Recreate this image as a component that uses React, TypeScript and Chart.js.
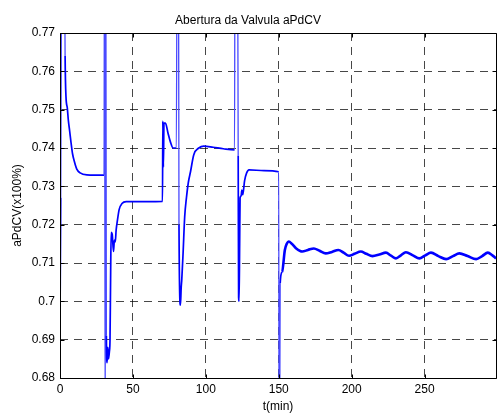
import React, { useEffect, useRef } from 'react';
import { Chart, registerables } from 'chart.js';

Chart.register(...registerables);

// time axis (minutes)
const timeMin: number[] = [
  0, 0.5, 1.3, 2.9, 3.5, 4.1, 5.0, 5.7, 6.6, 7.6, 8.6, 9.9, 11.5, 13.8, 18.4, 30.2,
  30.5, 31.0, 31.4, 31.8, 32.3, 32.8, 33.3, 33.9, 34.3, 34.7, 35.1, 35.8, 36.7, 37.3, 37.9,
  38.5, 39.4, 40.6, 42.5, 45.4, 70.3,
  70.5, 70.9, 71.3, 72.3, 74.0, 75.7, 77.6, 79.8,
  80.3, 81.2, 81.6, 82.6, 83.1, 83.5, 84.4, 85.5, 86.7, 88.0, 89.5, 91.7, 95.2, 98.6,
  105, 112, 119.7,
  120.0, 121.7, 122.2, 122.5, 122.8, 123.2, 123.5, 124.2, 124.7, 125.3, 126.6, 128.0,
  129.6, 140, 150.0,
  150.2, 150.6, 151.0, 152.3, 154.2, 155.5, 156.9, 159, 162, 166.1, 170, 174.1, 178,
  182.2, 186.5, 190.9, 194.5, 198.2, 202, 206.3, 210, 214.3, 219, 223.5, 227, 230.4,
  233.8, 237.2, 242, 246.4, 250.5, 254.4, 259.5, 264.8, 269.5, 273.9, 279.5, 285.4,
  289.5, 293.4, 296.5, 299,
];

// valve opening aPdCV (x100%)
const aPdCV: number[] = [
  0.695, 0.727, 0.80, 0.80, 0.764, 0.7534, 0.7505, 0.7473, 0.7445, 0.7413, 0.7385, 0.7364, 0.7345, 0.7335, 0.733, 0.7329,
  0.80, 0.66, 0.80, 0.691, 0.684, 0.688, 0.685, 0.687, 0.690, 0.706, 0.718, 0.7175, 0.713, 0.716, 0.7155,
  0.7186, 0.7212, 0.7240, 0.7255, 0.726, 0.7261,
  0.747, 0.735, 0.7465, 0.7465, 0.7440, 0.7416, 0.7400, 0.7400,
  0.80, 0.80, 0.720, 0.699, 0.7035, 0.7056, 0.7125, 0.722, 0.727, 0.731, 0.7338, 0.7382, 0.7400, 0.7405,
  0.7402, 0.7398, 0.7395,
  0.80, 0.80, 0.738, 0.701, 0.700, 0.715, 0.727, 0.7275, 0.729, 0.7278, 0.7315, 0.7335,
  0.7343, 0.7341, 0.7338,
  0.66, 0.66, 0.7047, 0.7077, 0.7134, 0.7150, 0.7156, 0.7150, 0.7138, 0.7130, 0.7134, 0.7138, 0.7132,
  0.7125, 0.7129, 0.7134, 0.7127, 0.7119, 0.7124, 0.7130, 0.7124, 0.7118, 0.7122, 0.7127, 0.7119, 0.7112,
  0.7120, 0.7128, 0.7120, 0.7112, 0.7120, 0.7127, 0.7118, 0.7110, 0.7118, 0.7125, 0.7118, 0.7110,
  0.7118, 0.7127, 0.7120, 0.7112,
];

const xTickValues: number[] = [0, 50, 100, 150, 200, 250];
const yTickValues: number[] = [0.68, 0.69, 0.7, 0.71, 0.72, 0.73, 0.74, 0.75, 0.76, 0.77];
const yTickLabels: string[] = ['0.68', '0.69', '0.7', '0.71', '0.72', '0.73', '0.74', '0.75', '0.76', '0.77'];

const X_MIN = 0;
const X_MAX = 299;
const Y_MIN = 0.68;
const Y_MAX = 0.77;

const FONT = "'Liberation Sans', Arial, Helvetica, sans-serif";

const boxPlugin = {
  id: 'matlabBox',
  afterDatasetsDraw(chart: any) {
    const { ctx, chartArea, scales } = chart;
    const L = Math.floor(chartArea.left) + 0.5;
    const R = Math.floor(chartArea.right) + 0.5;
    const T = Math.floor(chartArea.top) + 0.5;
    const B = Math.floor(chartArea.bottom) + 0.5;
    ctx.save();
    ctx.setLineDash([]);
    ctx.strokeStyle = '#000';
    ctx.lineWidth = 1;
    ctx.beginPath();
    ctx.rect(L, T, R - L, B - T);
    const tl = 4;
    xTickValues.forEach((v) => {
      const px = Math.round(scales.x.getPixelForValue(v)) + 0.5;
      ctx.moveTo(px, B);
      ctx.lineTo(px, B - tl);
      ctx.moveTo(px, T);
      ctx.lineTo(px, T + tl);
    });
    yTickValues.forEach((v) => {
      const py = Math.round(scales.y.getPixelForValue(v)) + 0.5;
      ctx.moveTo(L, py);
      ctx.lineTo(L + tl, py);
      ctx.moveTo(R, py);
      ctx.lineTo(R - tl, py);
    });
    ctx.stroke();
    ctx.restore();
  },
};

const outOfRange = (v: number) => v > Y_MAX || v < Y_MIN;

export default function App() {
  const ref = useRef<HTMLCanvasElement>(null);

  useEffect(() => {
    if (!ref.current) return;
    const points = timeMin.map((t, i) => ({ x: t, y: aPdCV[i] }));
    const chart = new Chart(ref.current, {
      type: 'line',
      data: {
        datasets: [
          {
            data: points,
            borderColor: '#0000ff',
            borderWidth: 1.6,
            pointRadius: 0,
            fill: false,
            cubicInterpolationMode: 'monotone',
            clip: 0,
            segment: {
              borderWidth: (c: any) => {
                if (outOfRange(c.p0.parsed.y) || outOfRange(c.p1.parsed.y)) return 1.3;
                return c.p0.parsed.x >= 152 ? 2.6 : 1.7;
              },
              borderColor: (c: any) => {
                if (outOfRange(c.p0.parsed.y) || outOfRange(c.p1.parsed.y)) return '#4a4aff';
                return '#0000ff';
              },
            },
          } as any,
        ],
      },
      options: {
        responsive: false,
        devicePixelRatio: 1,
        animation: false,
        layout: { padding: { left: 0, right: 2, top: 0, bottom: 0 } },
        plugins: {
          legend: { display: false },
          tooltip: { enabled: false },
          title: {
            display: true,
            text: 'Abertura da Valvula aPdCV',
            color: '#000',
            font: { family: FONT, size: 12, weight: 'normal' },
            padding: { top: 13, bottom: 5.6 },
          },
        },
        scales: {
          x: {
            type: 'linear',
            min: X_MIN,
            max: X_MAX,
            afterBuildTicks: (scale: any) => {
              scale.ticks = xTickValues.map((v) => ({ value: v }));
            },
            afterFit: (scale: any) => {
              scale.height = 36;
            },
            ticks: {
              color: '#000',
              font: { family: FONT, size: 12 },
              padding: 4,
              maxRotation: 0,
              callback: (v: any) => String(v),
            },
            grid: {
              display: true,
              color: 'rgba(0,0,0,0.72)',
              lineWidth: 1,
              drawTicks: false,
            },
            border: { display: false, dash: [8, 6] },
            title: {
              display: true,
              text: 't(min)',
              color: '#000',
              font: { family: FONT, size: 12 },
              padding: { top: 0, bottom: 0 },
            },
          },
          y: {
            type: 'linear',
            min: Y_MIN,
            max: Y_MAX,
            afterBuildTicks: (scale: any) => {
              scale.ticks = yTickValues.map((v) => ({ value: v }));
            },
            afterFit: (scale: any) => {
              scale.width = 60;
            },
            ticks: {
              color: '#000',
              font: { family: FONT, size: 12 },
              padding: 5,
              callback: (v: any) => {
                const idx = yTickValues.findIndex((t) => Math.abs(t - Number(v)) < 1e-9);
                return idx >= 0 ? yTickLabels[idx] : '';
              },
            },
            grid: {
              display: true,
              color: 'rgba(0,0,0,0.72)',
              lineWidth: 1,
              drawTicks: false,
            },
            border: { display: false, dash: [8, 6] },
            title: {
              display: true,
              text: 'aPdCV(x100%)',
              color: '#000',
              font: { family: FONT, size: 12 },
              padding: { top: 10, bottom: 0 },
            },
          },
        },
      } as any,
      plugins: [boxPlugin],
    });
    return () => chart.destroy();
  }, []);

  return (
    <div style={{ position: 'fixed', left: 0, top: 0, width: 498, height: 414, background: '#fff' }}>
      <canvas ref={ref} width={498} height={414} style={{ display: 'block', width: 498, height: 414 }} />
    </div>
  );
}
